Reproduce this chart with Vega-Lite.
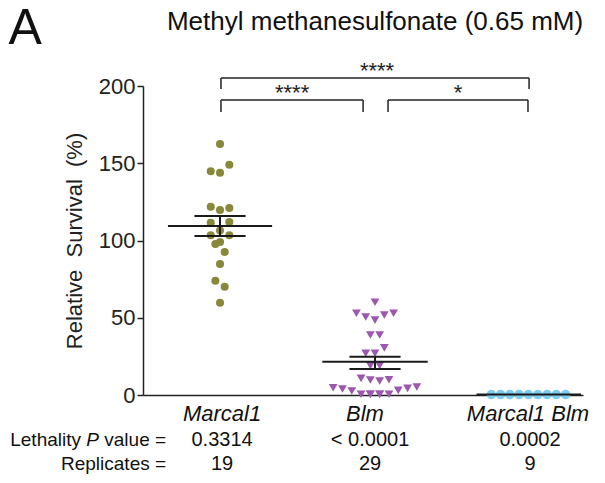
{
  "$schema": "https://vega.github.io/schema/vega-lite/v6.json",
  "width": 440,
  "height": 309,
  "autosize": "none",
  "padding": {"left": 143, "top": 86, "right": 22, "bottom": 88},
  "background": "white",
  "config": {"view": {"stroke": null}, "font": "Liberation Sans", "axis": {"grid": false}},
  "datasets": {
    "pts": [
      {"g": "Marcal1", "x": 1.0, "y": 162.5},
      {"g": "Marcal1", "x": 1.06, "y": 149},
      {"g": "Marcal1", "x": 0.94, "y": 144.8},
      {"g": "Marcal1", "x": 1.0, "y": 143.9},
      {"g": "Marcal1", "x": 0.94, "y": 121.9},
      {"g": "Marcal1", "x": 1.0, "y": 119.7},
      {"g": "Marcal1", "x": 1.06, "y": 121},
      {"g": "Marcal1", "x": 0.94, "y": 111.5},
      {"g": "Marcal1", "x": 1.06, "y": 112},
      {"g": "Marcal1", "x": 1.0, "y": 106.4},
      {"g": "Marcal1", "x": 0.94, "y": 103.4},
      {"g": "Marcal1", "x": 1.06, "y": 103.4},
      {"g": "Marcal1", "x": 0.97, "y": 97.7},
      {"g": "Marcal1", "x": 1.0, "y": 99},
      {"g": "Marcal1", "x": 1.03, "y": 92.6},
      {"g": "Marcal1", "x": 1.0, "y": 84.8},
      {"g": "Marcal1", "x": 0.97, "y": 74},
      {"g": "Marcal1", "x": 1.03, "y": 70.1},
      {"g": "Marcal1", "x": 1.0, "y": 59.7},
      {"g": "Blm", "x": 2.0, "y": 60},
      {"g": "Blm", "x": 1.88, "y": 52.9},
      {"g": "Blm", "x": 1.94, "y": 50.5},
      {"g": "Blm", "x": 2.0, "y": 48.5},
      {"g": "Blm", "x": 2.06, "y": 51.8},
      {"g": "Blm", "x": 2.12, "y": 52.9},
      {"g": "Blm", "x": 1.97, "y": 38.8},
      {"g": "Blm", "x": 2.03, "y": 38.8},
      {"g": "Blm", "x": 2.06, "y": 30.5},
      {"g": "Blm", "x": 1.94, "y": 27},
      {"g": "Blm", "x": 2.0, "y": 27},
      {"g": "Blm", "x": 1.97, "y": 19},
      {"g": "Blm", "x": 2.03, "y": 19},
      {"g": "Blm", "x": 1.91, "y": 10.8},
      {"g": "Blm", "x": 1.97, "y": 9.7},
      {"g": "Blm", "x": 2.03, "y": 9.1},
      {"g": "Blm", "x": 2.09, "y": 9.9},
      {"g": "Blm", "x": 1.73, "y": 4.7},
      {"g": "Blm", "x": 1.79, "y": 3.9},
      {"g": "Blm", "x": 1.85, "y": 2.6},
      {"g": "Blm", "x": 1.91, "y": 0.5},
      {"g": "Blm", "x": 1.97, "y": 0.5},
      {"g": "Blm", "x": 2.03, "y": 0.5},
      {"g": "Blm", "x": 2.09, "y": 0.5},
      {"g": "Blm", "x": 2.15, "y": 3},
      {"g": "Blm", "x": 2.21, "y": 4.3},
      {"g": "Blm", "x": 2.27, "y": 5.2},
      {"g": "Blm", "x": 1.97, "y": 0.5},
      {"g": "Blm", "x": 2.03, "y": 0.5},
      {"g": "Marcal1 Blm", "x": 2.75, "y": 0.3},
      {"g": "Marcal1 Blm", "x": 2.81, "y": 0.3},
      {"g": "Marcal1 Blm", "x": 2.87, "y": 0.3},
      {"g": "Marcal1 Blm", "x": 2.93, "y": 0.3},
      {"g": "Marcal1 Blm", "x": 2.99, "y": 0.3},
      {"g": "Marcal1 Blm", "x": 3.05, "y": 0.3},
      {"g": "Marcal1 Blm", "x": 3.11, "y": 0.3},
      {"g": "Marcal1 Blm", "x": 3.17, "y": 0.3},
      {"g": "Marcal1 Blm", "x": 3.23, "y": 0.3}
    ],
    "errs": [
      {"x": 0.664, "x2": 1.336, "y": 109.4, "y2": 109.4},
      {"x": 0.835, "x2": 1.165, "y": 115.9, "y2": 115.9},
      {"x": 0.835, "x2": 1.165, "y": 102.9, "y2": 102.9},
      {"x": 1.0, "x2": 1.0, "y": 102.9, "y2": 115.9},
      {"x": 1.66, "x2": 2.34, "y": 21.6, "y2": 21.6},
      {"x": 1.835, "x2": 2.165, "y": 24.8, "y2": 24.8},
      {"x": 1.835, "x2": 2.165, "y": 16.8, "y2": 16.8},
      {"x": 2.0, "x2": 2.0, "y": 16.8, "y2": 24.8},
      {"x": 2.655, "x2": 3.33, "y": 0.3, "y2": 0.3}
    ],
    "brackets": [
      {"x": 1.006, "x2": 2.994, "y": 205.2, "y2": 205.2},
      {"x": 1.006, "x2": 1.006, "y": 205.2, "y2": 198},
      {"x": 2.994, "x2": 2.994, "y": 205.2, "y2": 198},
      {"x": 1.006, "x2": 1.923, "y": 190.9, "y2": 190.9},
      {"x": 1.006, "x2": 1.006, "y": 190.9, "y2": 183.2},
      {"x": 1.923, "x2": 1.923, "y": 190.9, "y2": 183.2},
      {"x": 2.084, "x2": 2.987, "y": 190.9, "y2": 190.9},
      {"x": 2.084, "x2": 2.084, "y": 190.9, "y2": 183.2},
      {"x": 2.987, "x2": 2.987, "y": 190.9, "y2": 183.2}
    ]
  },
  "encoding": {
    "x": {"field": "x", "type": "quantitative", "scale": {"domain": [0.503, 3.342], "nice": false, "zero": false},
          "axis": {"title": null, "labels": false, "ticks": false, "domainColor": "#222", "domainWidth": 1.5}},
    "y": {"field": "y", "type": "quantitative", "scale": {"domain": [0, 200], "nice": false},
          "axis": {"title": "Relative\u00a0 Survival\u00a0 (%)", "values": [0, 50, 100, 150, 200], "labelFontSize": 22, "labelColor": "#222",
                   "tickSize": 6, "tickColor": "#222", "tickWidth": 1.5, "domainColor": "#222", "domainWidth": 1.5, "labelPadding": 2,
                   "titleFontSize": 22, "titleFontWeight": "normal", "titleColor": "#222", "titlePadding": 12}}
  },
  "layer": [
    {
      "data": {"name": "pts"},
      "mark": {"type": "point", "filled": true, "opacity": 1, "strokeWidth": 0},
      "encoding": {
        "color": {"field": "g", "type": "nominal", "scale": {"domain": ["Marcal1", "Blm", "Marcal1 Blm"], "range": ["#88883a", "#9c58ae", "#7ccbf0"]}, "legend": null},
        "shape": {"field": "g", "type": "nominal", "scale": {"domain": ["Marcal1", "Blm", "Marcal1 Blm"], "range": ["circle", "triangle-down", "circle"]}, "legend": null},
        "size": {"field": "g", "type": "ordinal", "scale": {"domain": ["Marcal1", "Blm", "Marcal1 Blm"], "range": [65, 90, 65]}, "legend": null}
      }
    },
    {
      "data": {"name": "errs"},
      "mark": {"type": "rule", "color": "#1a1a1a", "strokeWidth": 2},
      "encoding": {
        "x2": {"field": "x2"},
        "y2": {"field": "y2"}
      }
    },
    {
      "data": {"name": "brackets"},
      "mark": {"type": "rule", "color": "#222", "strokeWidth": 1.5},
      "encoding": {
        "x2": {"field": "x2"},
        "y2": {"field": "y2"}
      }
    },
    {
      "data": {"values": [
        {"t": "****", "x": 2.013, "y": 205.5},
        {"t": "****", "x": 1.465, "y": 190.8},
        {"t": "*", "x": 2.535, "y": 190.8}
      ]},
      "mark": {"type": "text", "fontSize": 22, "align": "center", "baseline": "alphabetic", "color": "#222"},
      "encoding": {"text": {"field": "t"}}
    },
    {
      "data": {"values": [
        {"t": "Marcal1", "x": 1.013, "y": -12.3},
        {"t": "Blm", "x": 1.935, "y": -12.3},
        {"t": "Marcal1 Blm", "x": 2.987, "y": -12.3}
      ]},
      "mark": {"type": "text", "fontSize": 22, "fontStyle": "italic", "align": "center", "baseline": "middle", "color": "#111"},
      "encoding": {"text": {"field": "t"}}
    },
    {
      "data": {"values": [
        {"t": "0.3314", "x": 1.013, "y": -29.1},
        {"t": "< 0.0001", "x": 1.968, "y": -29.1},
        {"t": "0.0002", "x": 3.0, "y": -29.1},
        {"t": "19", "x": 1.013, "y": -44.7},
        {"t": "29", "x": 1.968, "y": -44.7},
        {"t": "9", "x": 3.0, "y": -44.7}
      ]},
      "mark": {"type": "text", "fontSize": 20, "align": "center", "baseline": "middle", "color": "#111"},
      "encoding": {"text": {"field": "t"}}
    },
    {
      "data": {"values": [
        {"t": "Lethality", "x": 0.103, "y": -29.1},
        {"t": "value =", "x": 0.652, "y": -29.1},
        {"t": "Replicates =", "x": 0.652, "y": -44.7}
      ]},
      "mark": {"type": "text", "fontSize": 19, "align": "right", "baseline": "middle", "color": "#111"},
      "encoding": {"text": {"field": "t"}}
    },
    {
      "data": {"values": [
        {"t": "P", "x": 0.219, "y": -29.1}
      ]},
      "mark": {"type": "text", "fontSize": 19, "fontStyle": "italic", "align": "right", "baseline": "middle", "color": "#111"},
      "encoding": {"text": {"field": "t"}}
    },
    {
      "data": {"values": [
        {"t": "Methyl methanesulfonate (0.65 mM)", "x": 2.0, "y": 241.4}
      ]},
      "mark": {"type": "text", "fontSize": 26, "align": "center", "baseline": "middle", "color": "#111"},
      "encoding": {"text": {"field": "t"}}
    },
    {
      "data": {"values": [
        {"t": "A", "x": -0.258, "y": 237}
      ]},
      "mark": {"type": "text", "fontSize": 50, "align": "center", "baseline": "middle", "color": "#111"},
      "encoding": {"text": {"field": "t"}}
    }
  ]
}
